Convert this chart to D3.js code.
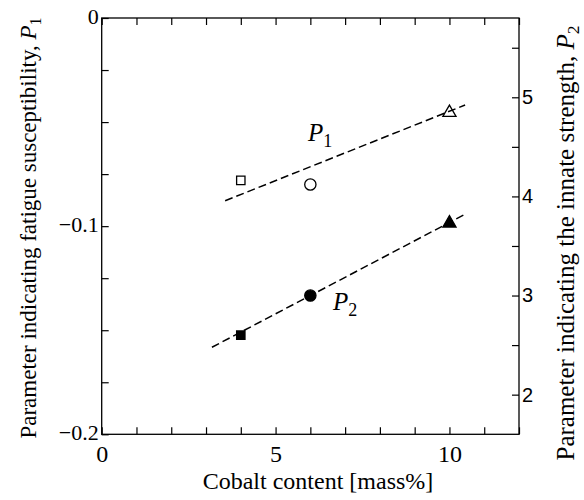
<!DOCTYPE html>
<html><head><meta charset="utf-8">
<script src="https://cdn.jsdelivr.net/npm/d3@7"></script>
<style>body{margin:0;background:#fff}svg{display:block}</style>
</head><body>
<svg id="c" width="584" height="500"></svg>
<script>
// ---- data ----
const cobalt = [4, 6, 10];
const markerShapes = ["square", "circle", "triangle"];
const p1Values = [-0.078, -0.080, -0.045];
const p2Values = [2.60, 3.00, 3.74];
const p1FitX = [3.55, 10.45];
const p1FitY = [-0.0878, -0.0418];
const p2FitX = [3.17, 10.44];
const p2FitY = [2.478, 3.818];
const xTickLabels = [0, 5, 10];
const leftTickLabels = [0, -0.1, -0.2];
const rightTickLabels = [2, 3, 4, 5];

const svg = d3.select("#c");
const L = 101.7, R = 519, T = 18, B = 434.3;
const x = d3.scaleLinear().domain([0, 12]).range([L, R]);
const yL = d3.scaleLinear().domain([-0.2, 0]).range([B, T]);
const yR = d3.scaleLinear().domain([1.6, 5.8]).range([B, T]);
const serif = "'Liberation Serif','Times New Roman',serif";
const sans = "'Liberation Sans',Arial,sans-serif";

// frame
svg.append("rect").attr("x", L).attr("y", T).attr("width", R - L).attr("height", B - T)
  .attr("fill", "none").attr("stroke", "#000").attr("stroke-width", 1.3);

function styleAxis(g) {
  g.select(".domain").remove();
  g.selectAll(".tick line").attr("stroke", "#000").attr("stroke-width", 1.2);
}
// bottom / top ticks (inward)
const xMinor = d3.range(0, 13, 1);
svg.append("g").attr("transform", `translate(0,${B})`)
  .call(d3.axisBottom(x).tickValues(xMinor).tickSize(-7).tickFormat(""))
  .call(styleAxis);
svg.append("g").attr("transform", `translate(0,${T})`)
  .call(d3.axisTop(x).tickValues(xMinor).tickSize(-7).tickFormat(""))
  .call(styleAxis);
svg.append("g").attr("transform", `translate(0,${B})`)
  .call(d3.axisBottom(x).tickValues(xTickLabels).tickSize(0).tickPadding(11).tickFormat(d3.format("d")))
  .call(g => { g.select(".domain").remove();
    g.selectAll("text").attr("font-family", serif).attr("font-size", 24).attr("fill", "#000"); });

// left axis
const yLMinor = d3.range(0, 9).map(i => -0.025 * i);
svg.append("g").attr("transform", `translate(${L},0)`)
  .call(d3.axisLeft(yL).tickValues(yLMinor).tickSize(-7).tickFormat(""))
  .call(styleAxis);
svg.append("g").attr("transform", `translate(${L},0)`)
  .call(d3.axisLeft(yL).tickValues(leftTickLabels).tickSize(0).tickPadding(3)
    .tickFormat(d => d === 0 ? "0" : "\u2212" + d3.format(".1f")(-d)))
  .call(g => { g.select(".domain").remove();
    g.selectAll("text").attr("font-family", serif).attr("font-size", 22).attr("fill", "#000").attr("dy", "0.25em"); });

// right axis
const yRMinor = d3.range(2, 6, 0.5);
svg.append("g").attr("transform", `translate(${R},0)`)
  .call(d3.axisRight(yR).tickValues(yRMinor).tickSize(-7).tickFormat(""))
  .call(styleAxis);
svg.append("g").attr("transform", `translate(${R},0)`)
  .call(d3.axisRight(yR).tickValues(rightTickLabels).tickSize(0).tickPadding(3).tickFormat(d3.format("d")))
  .call(g => { g.select(".domain").remove();
    g.selectAll("text").attr("font-family", sans).attr("font-size", 20).attr("fill", "#000"); });

// axis titles
svg.append("text").attr("x", 318).attr("y", 489).attr("text-anchor", "middle")
  .attr("font-family", serif).attr("font-size", 24).text("Cobalt content [mass%]");

function subTitle(xp, yp, main, sub, fs) {
  const t = svg.append("text").attr("transform", `translate(${xp},${yp}) rotate(-90)`)
    .attr("text-anchor", "middle").attr("font-family", serif).attr("font-size", fs);
  t.append("tspan").text(main);
  t.append("tspan").attr("font-style", "italic").text("P");
  t.append("tspan").attr("font-size", fs * 0.7).attr("dy", 5).text(sub);
}
subTitle(36, 228, "Parameter indicating fatigue susceptibility, ", "1", 23);
subTitle(574, 243, "Parameter indicating the innate strength, ", "2", 25);

// fit lines
const line = d3.line().x(d => x(d[0])).y(d => d[1]);
svg.append("path").datum(p1FitX.map((v, i) => [v, yL(p1FitY[i])]))
  .attr("d", line).attr("fill", "none").attr("stroke", "#000").attr("stroke-width", 1.5)
  .attr("stroke-dasharray", "8,4");
svg.append("path").datum(p2FitX.map((v, i) => [v, yR(p2FitY[i])]))
  .attr("d", line).attr("fill", "none").attr("stroke", "#000").attr("stroke-width", 1.5)
  .attr("stroke-dasharray", "8,4");

// markers
const symType = { square: d3.symbolSquare, circle: d3.symbolCircle, triangle: d3.symbolTriangle };
const symSize = { square: 70, circle: 100, triangle: 75 };
function drawMarkers(vals, scale, filled) {
  svg.append("g").selectAll("path").data(cobalt).join("path")
    .attr("transform", (d, i) => `translate(${x(d)},${scale(vals[i]) + (markerShapes[i] === "triangle" ? 1 : 0)})`)
    .attr("d", (d, i) => d3.symbol().type(symType[markerShapes[i]]).size(symSize[markerShapes[i]])())
    .attr("fill", filled ? "#000" : "#fff").attr("fill-opacity", filled ? 1 : 0)
    .attr("stroke", "#000").attr("stroke-width", 1.3);
}
drawMarkers(p1Values, yL, false);
drawMarkers(p2Values, yR, true);

// series labels
function seriesLabel(xp, yp, sub) {
  const t = svg.append("text").attr("x", xp).attr("y", yp).attr("font-family", serif).attr("font-size", 25);
  t.append("tspan").attr("font-style", "italic").text("P");
  t.append("tspan").attr("font-size", 18).attr("dy", 6).text(sub);
}
seriesLabel(308, 141, "1");
seriesLabel(333, 310, "2");
</script>
</body></html>
